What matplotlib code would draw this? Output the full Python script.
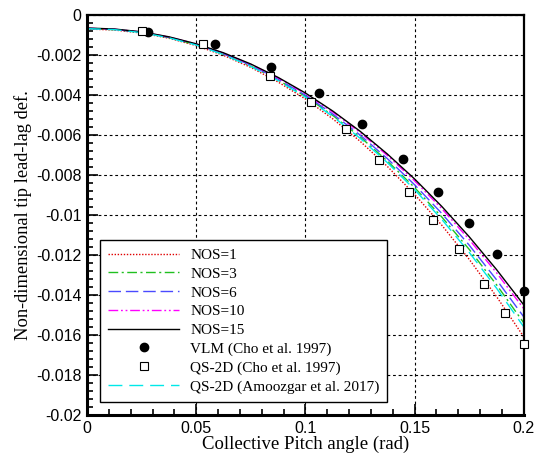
import matplotlib
matplotlib.use("Agg")
import matplotlib.pyplot as plt
from matplotlib.ticker import MultipleLocator, FixedLocator, FixedFormatter

# Collective pitch sampling for the NOS model curves (rad)
pitch = [0.0, 0.0125, 0.025, 0.0375, 0.05, 0.0625, 0.075, 0.0875, 0.1,
         0.1125, 0.125, 0.1375, 0.15, 0.1625, 0.175, 0.1875, 0.2]

nos1 = [-0.00070, -0.00075, -0.00090, -0.00116, -0.00153, -0.00202, -0.00262,
        -0.00335, -0.00420, -0.00519, -0.00631, -0.00757, -0.00897, -0.01052,
        -0.01222, -0.01408, -0.01610]
nos3 = [-0.00068, -0.00073, -0.00087, -0.00113, -0.00149, -0.00196, -0.00255,
        -0.00325, -0.00407, -0.00502, -0.00609, -0.00730, -0.00863, -0.01011,
        -0.01172, -0.01349, -0.01540]
nos6 = [-0.00067, -0.00072, -0.00086, -0.00112, -0.00147, -0.00194, -0.00251,
        -0.00321, -0.00401, -0.00495, -0.00600, -0.00718, -0.00849, -0.00993,
        -0.01151, -0.01324, -0.01510]
nos10 = [-0.00066, -0.00071, -0.00085, -0.00110, -0.00145, -0.00191, -0.00247,
         -0.00315, -0.00394, -0.00485, -0.00587, -0.00702, -0.00829, -0.00969,
         -0.01123, -0.01289, -0.01469]
nos15 = [-0.00065, -0.00070, -0.00084, -0.00109, -0.00144, -0.00189, -0.00245,
         -0.00312, -0.00390, -0.00480, -0.00581, -0.00695, -0.00820, -0.00958,
         -0.01109, -0.01273, -0.01450]
qs2d_amoozgar = [-0.00068, -0.00073, -0.00088, -0.00114, -0.00150, -0.00198,
                 -0.00257, -0.00328, -0.00411, -0.00507, -0.00616, -0.00738,
                 -0.00873, -0.01023, -0.01187, -0.01366, -0.01560]

# Reference data (Cho et al. 1997)
vlm_x = [0.0278, 0.0584, 0.0842, 0.1063, 0.1257, 0.1445, 0.1608, 0.1750,
         0.1875, 0.2000]
vlm_y = [-0.00083, -0.00145, -0.00258, -0.00392, -0.00545, -0.00722,
         -0.00883, -0.01042, -0.01195, -0.01380]
qs_x = [0.0253, 0.0532, 0.0838, 0.1024, 0.1185, 0.1336, 0.1472, 0.1582,
        0.1701, 0.1817, 0.1915, 0.2000]
qs_y = [-0.00080, -0.00147, -0.00303, -0.00433, -0.00572, -0.00725,
        -0.00887, -0.01025, -0.01172, -0.01345, -0.01492, -0.01647]

x_ticks = [0.0, 0.05, 0.1, 0.15, 0.2]
x_tick_labels = ["0", "0.05", "0.1", "0.15", "0.2"]
y_ticks = [0.0, -0.002, -0.004, -0.006, -0.008, -0.01, -0.012, -0.014,
           -0.016, -0.018, -0.02]
y_tick_labels = ["0", "-0.002", "-0.004", "-0.006", "-0.008", "-0.01",
                 "-0.012", "-0.014", "-0.016", "-0.018", "-0.02"]

serif = ["Liberation Serif", "DejaVu Serif"]
sans = ["Liberation Sans", "DejaVu Sans"]

fig = plt.figure(figsize=(5.42, 4.55), dpi=100)
ax = fig.add_axes([0.1605, 0.088, 0.806, 0.879])

lw = 1.0
ax.plot(pitch, nos1, color="#e00000", lw=lw, ls=(0, (1, 1.2)), label="NOS=1")
ax.plot(pitch, nos3, color="#20c020", lw=lw, ls=(0, (7, 2.5, 1.5, 2.5)), label="NOS=3")
ax.plot(pitch, nos6, color="#4a4aff", lw=lw, ls=(0, (9, 3.5)), label="NOS=6")
ax.plot(pitch, nos10, color="#ff00ff", lw=lw, ls=(0, (7, 2, 1.3, 2, 1.3, 2)), label="NOS=10")
ax.plot(pitch, nos15, color="black", lw=lw, ls="-", label="NOS=15")
ax.plot(vlm_x, vlm_y, ls="none", marker="o", ms=6, mfc="black", mec="black",
        label="VLM (Cho et al. 1997)", clip_on=False, zorder=5)
ax.plot(qs_x, qs_y, ls="none", marker="s", ms=5.5, mfc="white", mec="black",
        mew=0.8, label="QS-2D (Cho et al. 1997)", clip_on=False, zorder=5)
ax.plot(pitch, qs2d_amoozgar, color="#00e8e8", lw=lw, ls=(0, (10, 5)),
        label="QS-2D (Amoozgar et al. 2017)")

ax.set_xlim(0, 0.2)
ax.set_ylim(-0.02, 0)

ax.xaxis.set_major_locator(FixedLocator(x_ticks))
ax.xaxis.set_major_formatter(FixedFormatter(x_tick_labels))
ax.yaxis.set_major_locator(FixedLocator(y_ticks))
ax.yaxis.set_major_formatter(FixedFormatter(y_tick_labels))
ax.xaxis.set_minor_locator(MultipleLocator(0.01))
ax.yaxis.set_minor_locator(MultipleLocator(0.0004))

ax.tick_params(which="both", direction="in", top=False, right=False,
               colors="black", width=1.2)
ax.tick_params(which="major", length=8, labelsize=11.5, pad=4)
ax.tick_params(which="minor", length=4)
for lab in ax.get_xticklabels() + ax.get_yticklabels():
    lab.set_family(sans)

ax.grid(True, which="major", color="black", ls=(0, (2.5, 2.5)), lw=0.8)

for side in ("left", "bottom"):
    ax.spines[side].set_linewidth(2.2)
for side in ("top", "right"):
    ax.spines[side].set_linewidth(1.6)

ax.set_xlabel("Collective Pitch angle (rad)", family=serif, fontsize=13.5,
              labelpad=0)
ax.set_ylabel("Non-dimensional tip lead-lag def.", family=serif, fontsize=13.3,
              labelpad=3)

leg = ax.legend(loc="lower left", bbox_to_anchor=(0.03, 0.032, 0.656, 0.408),
                mode="expand", borderaxespad=0, prop={"family": serif, "size": 11},
                handlelength=4.6, handletextpad=0.75, labelspacing=0.33,
                fancybox=False, framealpha=1, edgecolor="black",
                borderpad=0.55, numpoints=1)
leg.get_frame().set_linewidth(1.0)

fig.savefig("out.png", dpi=100)
